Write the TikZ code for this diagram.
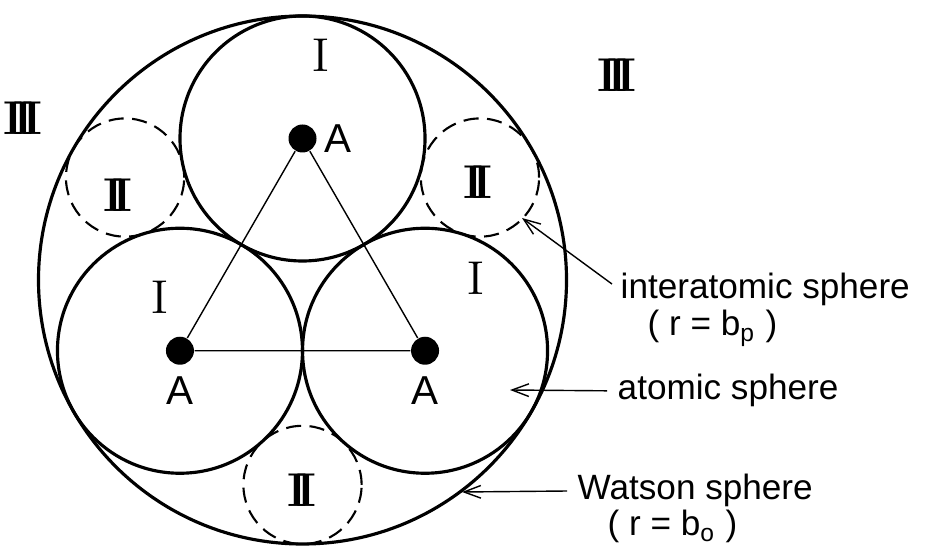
\documentclass[tikz,border=0pt]{standalone}
\usepackage{fontspec}
\newfontfamily\lettering{Liberation Sans}
\usetikzlibrary{arrows.meta,positioning}

\begin{document}
\begin{tikzpicture}[>={Straight Barb[length=4.8pt,width=3.6pt]},
  sphere/.style={line width=0.9pt},
  gap/.style={line width=0.6pt,dash pattern=on 4.3pt off 2.4pt},
  atom/.style={circle,fill,inner sep=0pt,minimum size=2.8mm},
  numeral/.style={font=\fontsize{13.5}{14}\selectfont,inner sep=0pt},
  atomlbl/.style={font=\lettering\fontsize{11.5}{12}\selectfont,inner sep=0pt},
  lbl/.style={font=\lettering\fontsize{10}{12}\selectfont,inner sep=0pt},
  arr/.style={->,line width=0.4pt,shorten <=1mm}]
  \useasboundingbox (0,0) rectangle (9.36,5.46);
  \coordinate (O) at (3.025,2.66);
  % Watson sphere
  \draw[sphere] (O) circle (2.64);
  % atoms and atomic spheres
  \foreach \ang/\nm in {90/T,210/L,330/R}
    \path (O) ++(\ang:1.415) coordinate (c\nm);
  \foreach \nm in {T,L,R}
    \draw[sphere] (c\nm) circle (1.225);
  % interatomic spheres
  \foreach \ang in {150,30,270}
    \draw[gap] (O) ++(\ang:2.049) circle (0.591);
  \node[atom] (aT) at (cT) {};
  \node[atom] (aL) at (cL) {};
  \node[atom] (aR) at (cR) {};
  \draw[line width=0.4pt] (aT) -- (aL) -- (aR) -- (aT);
  \node[atomlbl,right=0.7mm of aT] (AT) {A};
  \node[atomlbl,below=1.1mm of aL] (AL) {A};
  \node[atomlbl,below=1.1mm of aR] (AR) {A};
  % regions
  \node[numeral] (iT) at (3.21,4.91) {I};
  \node[numeral] (iL) at (1.60,2.49) {I};
  \node[numeral] (iR) at (4.76,2.68) {I};
  \node[numeral] (iiL) at (1.18,3.51) {\textbf{I\kern-.22em I}};
  \node[numeral] (iiR) at (4.78,3.64) {\textbf{I\kern-.22em I}};
  \node[numeral] (iiB) at (3.02,0.56) {\textbf{I\kern-.22em I}};
  \node[numeral] (iiiL) at (0.23,4.28) {\textbf{I\kern-.22em I\kern-.22em I}};
  \node[numeral] (iiiR) at (6.17,4.71) {\textbf{I\kern-.22em I\kern-.22em I}};
  % labels
  \node[lbl,anchor=base west] (inter) at (6.20,2.47) {interatomic sphere};
  \node[lbl,anchor=base west] (interr) at (6.47,2.10) {( r = b\textsubscript{p} )};
  \node[lbl,anchor=base west] (atomic) at (6.17,1.46) {atomic sphere};
  \node[lbl,anchor=base west] (watson) at (5.77,0.46) {Watson sphere};
  \node[lbl,anchor=base west] (watsonr) at (6.07,0.10) {( r = b\textsubscript{o} )};
  \coordinate (intertip) at (5.22,3.28);
  \coordinate (atomtip) at (5.10,1.56);
  \coordinate (watsontip) at (4.62,0.54);
  \draw[arr] (inter.west) -- (intertip);
  \draw[arr] (atomic.west) -- (atomtip);
  \draw[arr] (watson.west) -- (watsontip);
\end{tikzpicture}
\end{document}
